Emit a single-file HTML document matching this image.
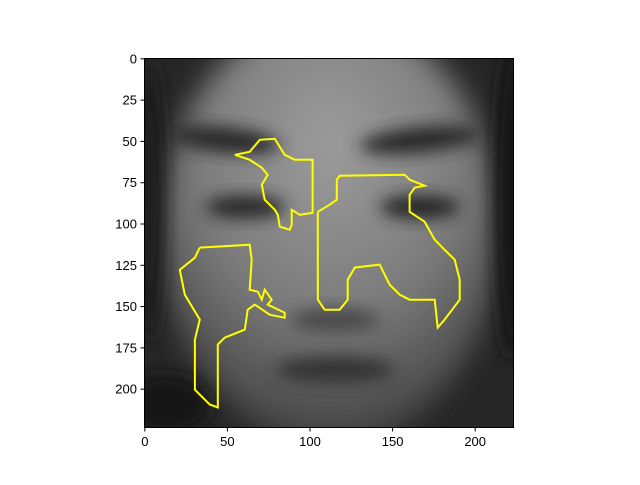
<!DOCTYPE html>
<html><head><meta charset="utf-8"><style>
body{margin:0;background:#fff;}
svg text{font-family:"Liberation Sans",sans-serif;font-size:13px;fill:#000;}
</style></head><body>
<svg id="chart" width="640" height="480" viewBox="0 0 640 480">
<defs>
<clipPath id="clip"><rect x="144" y="58" width="370" height="370"/></clipPath>
<filter id="b8" x="-50%" y="-50%" width="200%" height="200%"><feGaussianBlur stdDeviation="8"/></filter>
<filter id="b14" x="-50%" y="-50%" width="200%" height="200%"><feGaussianBlur stdDeviation="14"/></filter>
<radialGradient id="fg" cx="0.5" cy="0.3" r="0.65"><stop offset="0" stop-color="#9c9c9c"/><stop offset="0.6" stop-color="#7c7c7c"/><stop offset="1" stop-color="#4a4a4a"/></radialGradient>
</defs>
<g clip-path="url(#clip)">
<rect x="144" y="58" width="370" height="370" fill="#262626"/>
<ellipse cx="330" cy="230" rx="170" ry="215" fill="url(#fg)" filter="url(#b14)"/>
<ellipse cx="225" cy="140" rx="55" ry="13" fill="#2a2a2a" filter="url(#b8)" transform="rotate(6 225 140)"/>
<ellipse cx="420" cy="140" rx="60" ry="13" fill="#2a2a2a" filter="url(#b8)" transform="rotate(-6 420 140)"/>
<ellipse cx="245" cy="207" rx="40" ry="12" fill="#2c2c2c" filter="url(#b8)"/>
<ellipse cx="420" cy="207" rx="40" ry="12" fill="#262626" filter="url(#b8)"/>
<ellipse cx="335" cy="320" rx="45" ry="12" fill="#4a4a4a" filter="url(#b8)"/>
<ellipse cx="335" cy="370" rx="60" ry="14" fill="#353535" filter="url(#b8)"/>
<ellipse cx="165" cy="405" rx="45" ry="30" fill="#151515" filter="url(#b8)"/>
<ellipse cx="512" cy="200" rx="18" ry="160" fill="#181818" filter="url(#b8)"/>
<ellipse cx="150" cy="200" rx="14" ry="140" fill="#1e1e1e" filter="url(#b8)"/>
<g id="contours"></g>
</g>
<rect x="144.5" y="58.5" width="369" height="369" fill="none" stroke="#000" stroke-width="1"/>
<g id="axes"></g>
</svg>
<script>
const xTicks=[0,50,100,150,200];
const yTicks=[0,25,50,75,100,125,150,175,200];
const contourA=[[54.5,58.1],[63.5,56.3],[69.6,49.0],[78.7,48.4],[84.7,58.1],[90.8,61.1],[101.6,61.1],[101.6,93.2],[93.8,94.4],[88.9,91.4],[88.9,100.4],[87.7,103.5],[81.7,101.6],[80.5,94.4],[78.7,91.4],[72.6,85.3],[70.8,76.2],[74.4,70.2],[70.8,65.9],[63.5,61.1],[54.5,58.1]];
const contourB=[[104.7,92.6],[104.7,145.8],[108.9,151.9],[118.0,151.9],[122.8,145.8],[122.8,133.7],[127.1,126.4],[142.2,124.6],[148.2,136.7],[154.3,142.8],[160.3,145.8],[175.5,145.8],[177.3,162.7],[181.5,157.9],[190.6,145.8],[190.6,133.7],[187.6,121.6],[181.5,115.6],[175.5,109.5],[169.4,98.6],[160.3,92.6],[160.3,82.3],[163.4,78.0],[169.4,76.8],[160.3,73.2],[157.3,70.2],[118.0,70.8],[116.2,73.2],[116.2,85.3],[111.9,88.3],[104.7,92.6]];
const contourC=[[33.3,114.3],[63.5,112.5],[64.7,121.6],[63.5,139.8],[68.4,141.0],[70.8,145.8],[72.6,139.8],[76.8,145.8],[74.4,148.8],[84.7,153.7],[84.7,156.7],[75.6,154.9],[66.6,148.8],[62.3,151.9],[60.5,163.9],[48.4,168.8],[44.2,173.0],[44.2,211.1],[39.3,209.3],[30.3,200.3],[30.3,170.0],[33.3,157.9],[24.2,142.8],[21.2,127.7],[30.3,120.4],[33.3,114.3]];
const X0=144,Y0=58,S=370/224;
function sx(u){return X0+(u+0.5)*S;}
function sy(v){return Y0+(v+0.5)*S;}
const NS="http://www.w3.org/2000/svg";
const cg=document.getElementById('contours');
[contourA,contourB,contourC].forEach((c,i)=>{
 const p=document.createElementNS(NS,'polyline');
 p.setAttribute('points',c.map(q=>sx(q[0]).toFixed(1)+','+sy(q[1]).toFixed(1)).join(' '));
 p.setAttribute('fill','none');p.setAttribute('stroke','#ffff00');p.setAttribute('stroke-width','2');
 
 
 cg.appendChild(p);
});
const ax=document.getElementById('axes');
xTicks.forEach(t=>{
 const x=sx(t);
 const l=document.createElementNS(NS,'line');
 l.setAttribute('x1',x);l.setAttribute('x2',x);l.setAttribute('y1',428);l.setAttribute('y2',431.5);l.setAttribute('stroke','#000');
 
 
 ax.appendChild(l);
 const tx=document.createElementNS(NS,'text');
 tx.setAttribute('x',x);tx.setAttribute('y',446);tx.setAttribute('text-anchor','middle');tx.textContent=t;
 
 
 ax.appendChild(tx);
});
yTicks.forEach(t=>{
 const y=sy(t);
 const l=document.createElementNS(NS,'line');
 l.setAttribute('x1',140.5);l.setAttribute('x2',144);l.setAttribute('y1',y);l.setAttribute('y2',y);l.setAttribute('stroke','#000');
 
 
 ax.appendChild(l);
 const tx=document.createElementNS(NS,'text');
 tx.setAttribute('x',137);tx.setAttribute('y',y+4.5);tx.setAttribute('text-anchor','end');tx.textContent=t;
 
 
 ax.appendChild(tx);
});
</script>
</body></html>
